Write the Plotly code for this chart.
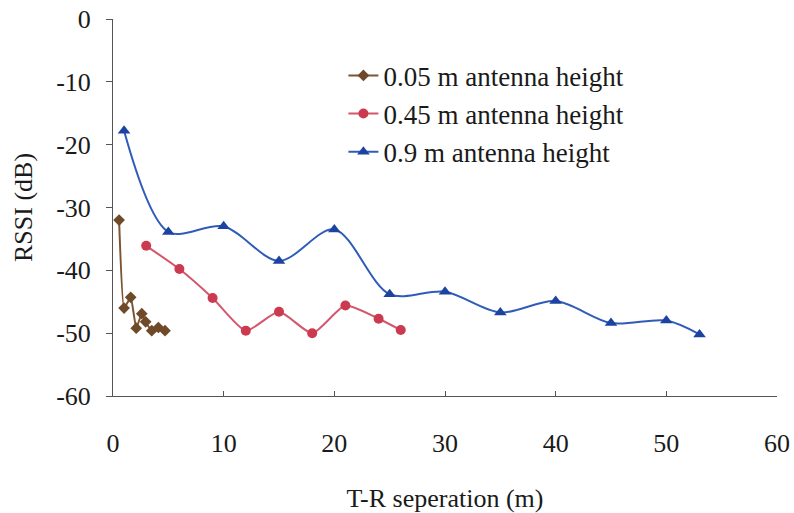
import plotly.graph_objects as go

# Measured RSSI versus transmitter-receiver separation for three antenna heights
dist_005 = [0.55, 1.0, 1.6, 2.1, 2.6, 2.95, 3.5, 4.1, 4.7]
rssi_005 = [-32.0, -46.0, -44.3, -49.2, -46.9, -48.2, -49.6, -49.1, -49.6]

dist_045 = [3, 6, 9, 12, 15, 18, 21, 24, 26]
rssi_045 = [-36.1, -39.8, -44.4, -49.6, -46.6, -50.0, -45.6, -47.7, -49.5]

dist_09 = [1, 5, 10, 15, 20, 25, 30, 35, 40, 45, 50, 53]
rssi_09 = [-17.8, -33.9, -33.0, -38.5, -33.5, -43.8, -43.4, -46.7, -44.9, -48.4, -48.0, -50.2]

names = ["0.05 m antenna height", "0.45 m antenna height", "0.9 m antenna height"]
x_ticks = [0, 10, 20, 30, 40, 50, 60]
y_ticks = [0, -10, -20, -30, -40, -50, -60]

FONT = "Liberation Serif, Times New Roman, serif"

fig = go.Figure()
fig.add_trace(go.Scatter(
    x=dist_005, y=rssi_005, name=names[0], mode="lines+markers",
    line=dict(color="#7b5533", width=2, shape="spline", smoothing=0.4),
    marker=dict(symbol="diamond", size=9, color="#6e4a28"),
))
fig.add_trace(go.Scatter(
    x=dist_045, y=rssi_045, name=names[1], mode="lines+markers",
    line=dict(color="#d4566a", width=2, shape="spline", smoothing=0.6),
    marker=dict(symbol="circle", size=10, color="#cc3a4f"),
))
fig.add_trace(go.Scatter(
    x=dist_09, y=rssi_09, name=names[2], mode="lines+markers",
    line=dict(color="#2f5cb8", width=2, shape="spline", smoothing=0.9),
    marker=dict(symbol="triangle-up", size=11, color="#1d43a0"),
))

fig.update_layout(
    width=794, height=513,
    margin=dict(l=113, r=17, t=19, b=117),
    paper_bgcolor="white", plot_bgcolor="white",
    font=dict(family=FONT, size=26, color="#1a1a1a"),
    showlegend=True,
    legend=dict(
        x=0.347, y=0.914, xanchor="left", yanchor="top",
        bgcolor="rgba(0,0,0,0)", font=dict(size=27, family=FONT),
        traceorder="normal", itemwidth=30,
    ),
    xaxis=dict(
        range=[0, 60], tickvals=x_ticks, ticktext=[str(v) for v in x_ticks],
        showgrid=False, zeroline=False, showline=True, linecolor="#555555", linewidth=1,
        ticks="inside", ticklen=5, tickcolor="#555555",
        ticklabelstandoff=24, automargin=False,
        title=dict(text="T-R seperation (m)", font=dict(size=26, family=FONT), standoff=34),
    ),
    yaxis=dict(
        range=[-60, 0], tickvals=y_ticks, ticktext=[str(v) for v in y_ticks],
        showgrid=False, zeroline=False, showline=True, linecolor="#555555", linewidth=1,
        ticks="outside", ticklen=6, tickcolor="#555555",
        ticklabelstandoff=10, automargin=False,
        title=dict(text="RSSI (dB)", font=dict(size=26, family=FONT), standoff=16),
    ),
)

fig.write_html("out.html")
